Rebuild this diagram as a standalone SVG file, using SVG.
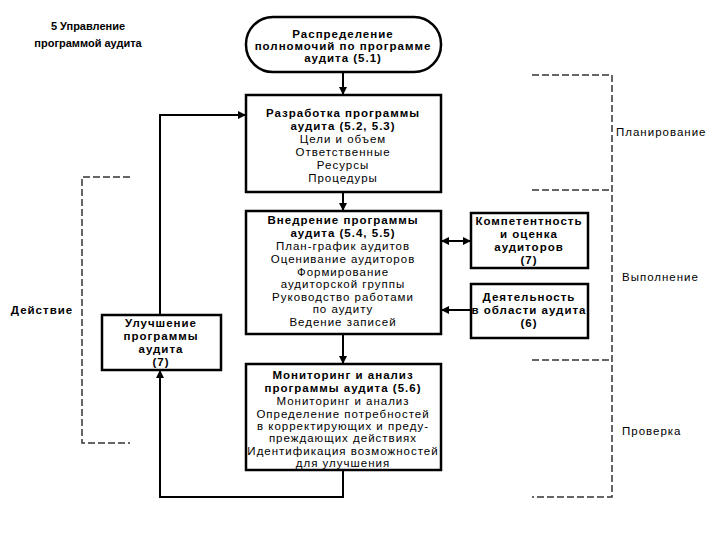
<svg xmlns="http://www.w3.org/2000/svg" width="720" height="540" viewBox="0 0 720 540">
<style>
text{font-family:"Liberation Sans",Arial,sans-serif;font-size:11.5px;letter-spacing:1px;fill:#000;text-anchor:middle}
.b{font-weight:bold}
.l{text-anchor:start}
.t{font-size:11px;letter-spacing:0}
.box{fill:#fff;stroke:#000;stroke-width:2.5}
.con{fill:none;stroke:#000;stroke-width:2}
.dash{fill:none;stroke:#333;stroke-width:1.5;stroke-dasharray:7,3}
</style>
<defs>
<marker id="ah" viewBox="0 0 10 10" refX="10" refY="5" markerWidth="4" markerHeight="4" orient="auto-start-reverse">
<path d="M0,0L10,5L0,10z" fill="#000"/>
</marker>
</defs>
<rect width="720" height="540" fill="#fff"/>
<g id="title">
<text class="b t" x="88" y="30">5 Управление</text>
<text class="b t" x="88" y="47">программой аудита</text>
</g>
<g id="brackets">
<path class="dash" d="M532,75H612V497H532M532,190H612M532,360H612"/>
<path class="dash" d="M130,177H82V443H130"/>
<text class="l" x="616" y="136">Планирование</text>
<text class="l" x="622" y="281">Выполнение</text>
<text class="l" x="622" y="435">Проверка</text>
<text class="b" x="42" y="314">Действие</text>
</g>
<g id="connectors">
<path class="con" d="M343,72V95" marker-end="url(#ah)"/>
<path class="con" d="M343,192V211" marker-end="url(#ah)"/>
<path class="con" d="M343,334V364" marker-end="url(#ah)"/>
<path class="con" d="M343,470V497H160V370" marker-end="url(#ah)"/>
<path class="con" d="M160,315V115H246" marker-end="url(#ah)"/>
<path class="con" d="M441,241H471" marker-start="url(#ah)" marker-end="url(#ah)"/>
<path class="con" d="M471,310H441" marker-end="url(#ah)"/>
</g>
<g id="n1">
<rect class="box" x="246" y="17" width="195" height="55" rx="27" ry="27"/>
<text class="b" x="343" y="38">Распределение</text>
<text class="b" x="343" y="50">полномочий по программе</text>
<text class="b" x="343" y="62">аудита (5.1)</text>
</g>
<g id="n2">
<rect class="box" x="246" y="95" width="195" height="97"/>
<text class="b" x="343" y="117">Разработка программы</text>
<text class="b" x="343" y="130">аудита (5.2, 5.3)</text>
<text x="343" y="143">Цели и объем</text>
<text x="343" y="156">Ответственные</text>
<text x="343" y="169">Ресурсы</text>
<text x="343" y="182">Процедуры</text>
</g>
<g id="n3">
<rect class="box" x="246" y="211" width="195" height="123"/>
<text class="b" x="343" y="224">Внедрение программы</text>
<text class="b" x="343" y="237">аудита (5.4, 5.5)</text>
<text x="343" y="250">План-график аудитов</text>
<text x="343" y="263">Оценивание аудиторов</text>
<text x="343" y="276">Формирование</text>
<text x="343" y="288">аудиторской группы</text>
<text x="343" y="301">Руководство работами</text>
<text x="343" y="313">по аудиту</text>
<text x="343" y="326">Ведение записей</text>
</g>
<g id="n4">
<rect class="box" x="246" y="364" width="195" height="106"/>
<text class="b" x="343" y="379">Мониторинг и анализ</text>
<text class="b" x="343" y="392">программы аудита (5.6)</text>
<text x="343" y="405">Мониторинг и анализ</text>
<text x="343" y="418">Определение потребностей</text>
<text x="343" y="430">в корректирующих и преду-</text>
<text x="343" y="442">преждающих действиях</text>
<text x="343" y="455">Идентификация возможностей</text>
<text x="343" y="467">для улучшения</text>
</g>
<g id="n5">
<rect class="box" x="471" y="213" width="117" height="55"/>
<text class="b" x="529" y="225">Компетентность</text>
<text class="b" x="529" y="238">и оценка</text>
<text class="b" x="529" y="251">аудиторов</text>
<text class="b" x="529" y="264">(7)</text>
</g>
<g id="n6">
<rect class="box" x="471" y="284" width="117" height="54"/>
<text class="b" x="529" y="301">Деятельность</text>
<text class="b" x="529" y="314">в области аудита</text>
<text class="b" x="529" y="327">(6)</text>
</g>
<g id="n7">
<rect class="box" x="102" y="315" width="119" height="55"/>
<text class="b" x="161" y="327">Улучшение</text>
<text class="b" x="161" y="340">программы</text>
<text class="b" x="161" y="353">аудита</text>
<text class="b" x="161" y="366">(7)</text>
</g>
</svg>
